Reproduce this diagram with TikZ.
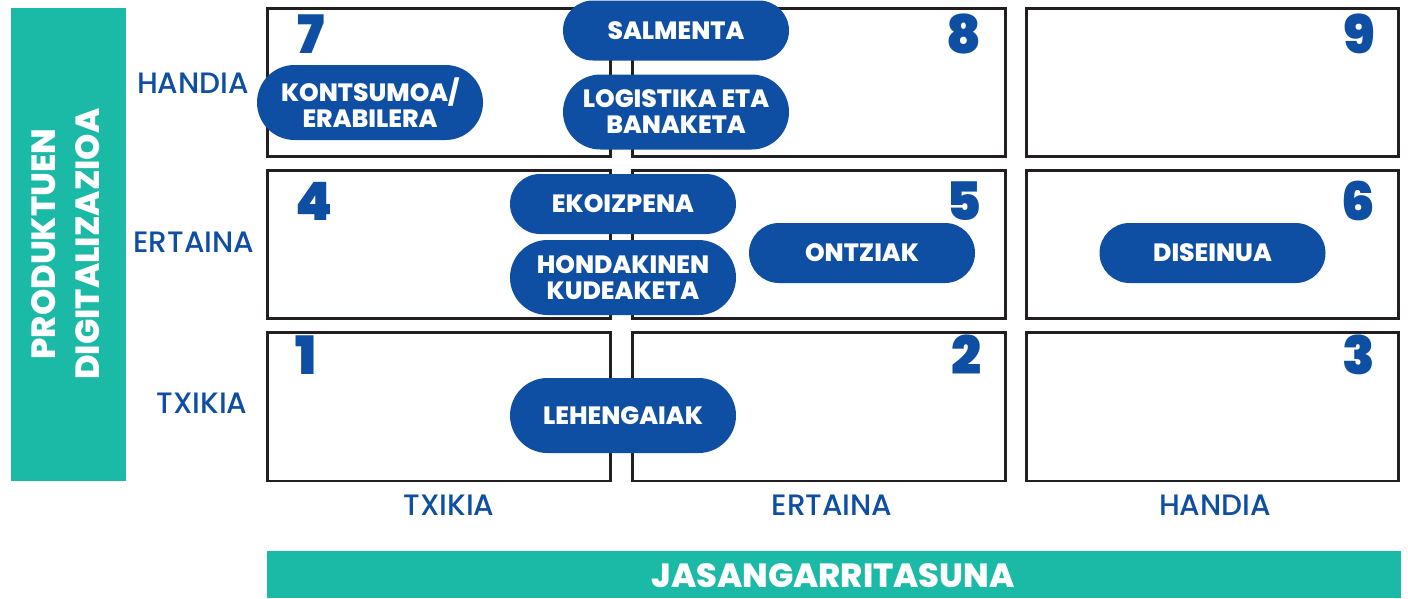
\documentclass[tikz,border=0pt]{standalone}
\usepackage{fontspec}
\setmainfont{Poppins}
\newfontfamily\pxbold{Poppins}[UprightFont=* ExtraBold]
\newfontfamily\pblack{Poppins}[UprightFont=* Black]
\newfontfamily\pmed{Poppins}[UprightFont=* Medium]
\usetikzlibrary{shapes.misc}
\definecolor{pblue}{HTML}{0F4FA3}
\definecolor{pteal}{HTML}{1ABAA7}
\definecolor{pline}{HTML}{231F20}
\begin{document}
\begin{tikzpicture}[x=1pt,y=-1pt,
  cell/.style={draw=pline,line width=2.6pt},
  pill/.style={rounded rectangle, fill=pblue, text=white, inner sep=0pt,
    font=\pxbold\fontsize{25}{26}\selectfont, minimum width=226pt, align=center},
  pillone/.style={pill, minimum height=60pt},
  pilltwo/.style={pill, minimum height=75pt},
  num/.style={text=pblue, inner sep=0pt, font=\pblack\fontsize{53}{53}\selectfont},
  axlab/.style={text=pblue, inner sep=0pt, anchor=base, font=\pmed\fontsize{29.5}{29.5}\selectfont},
  band/.style={fill=pteal, draw=none},
  bandtext/.style={text=white, inner sep=0pt, font=\pxbold\fontsize{33.5}{44}\selectfont, align=center}
]
\useasboundingbox (0,0) rectangle (1408,598);
\fill[white] (0,0) rectangle (1408,598);

% teal bands
\fill[band] (11,8) rectangle (126,481);
\fill[band] (267,551) rectangle (1401,598);
\node[bandtext, rotate=90] (ytitle) at (66,244) {PRODUKTUEN\\DIGITALIZAZIOA};
\node[bandtext, anchor=base] (xtitle) at (833,587) {JASANGARRITASUNA};

% cells
\draw[cell] (267.5,8.5) rectangle (610.5,156.5);
\draw[cell] (632.5,8.5) rectangle (1005.5,156.5);
\draw[cell] (1026.5,8.5) rectangle (1398.5,156.5);
\draw[cell] (267.5,170.5) rectangle (610.5,318.5);
\draw[cell] (632.5,170.5) rectangle (1005.5,318.5);
\draw[cell] (1026.5,170.5) rectangle (1398.5,318.5);
\draw[cell] (267.5,332.5) rectangle (610.5,481);
\draw[cell] (632.5,332.5) rectangle (1005.5,481);
\draw[cell] (1026.5,332.5) rectangle (1398.5,481);

% numbers
\node[num, anchor=base west] (n7) at (297,53) {7};
\node[num, anchor=base east] (n8) at (982,53) {8};
\node[num, anchor=base east] (n9) at (1375,53) {9};
\node[num, anchor=base west] (n4) at (295,220) {4};
\node[num, anchor=base east] (n5) at (982,220) {5};
\node[num, anchor=base east] (n6) at (1375,220) {6};
\node[num, anchor=base west] (n1) at (295,374) {1};
\node[num, anchor=base east] (n2) at (982,374) {2};
\node[num, anchor=base east] (n3) at (1375,374) {3};

% axis labels
\node[axlab] (yh) at (193,93) {HANDIA};
\node[axlab] (ye) at (194,252) {ERTAINA};
\node[axlab] (yt) at (202,413) {TXIKIA};
\node[axlab] (xt) at (449,515) {TXIKIA};
\node[axlab] (xe) at (832,515) {ERTAINA};
\node[axlab] (xh) at (1215,515) {HANDIA};

% pills
\node[pilltwo] (kontsumoa) at (370,102.5) {KONTSUMOA/\\ERABILERA};
\node[pillone] (salmenta) at (676,30.5) {SALMENTA};
\node[pilltwo] (logistika) at (676,112) {LOGISTIKA ETA\\BANAKETA};
\node[pillone] (ekoizpena) at (623,204) {EKOIZPENA};
\node[pilltwo] (hondakinen) at (623,277.5) {HONDAKINEN\\KUDEAKETA};
\node[pillone] (ontziak) at (862,253) {ONTZIAK};
\node[pillone] (diseinua) at (1212.5,253) {DISEINUA};
\node[pilltwo] (lehengaiak) at (623,415.5) {LEHENGAIAK};
\end{tikzpicture}
\end{document}
